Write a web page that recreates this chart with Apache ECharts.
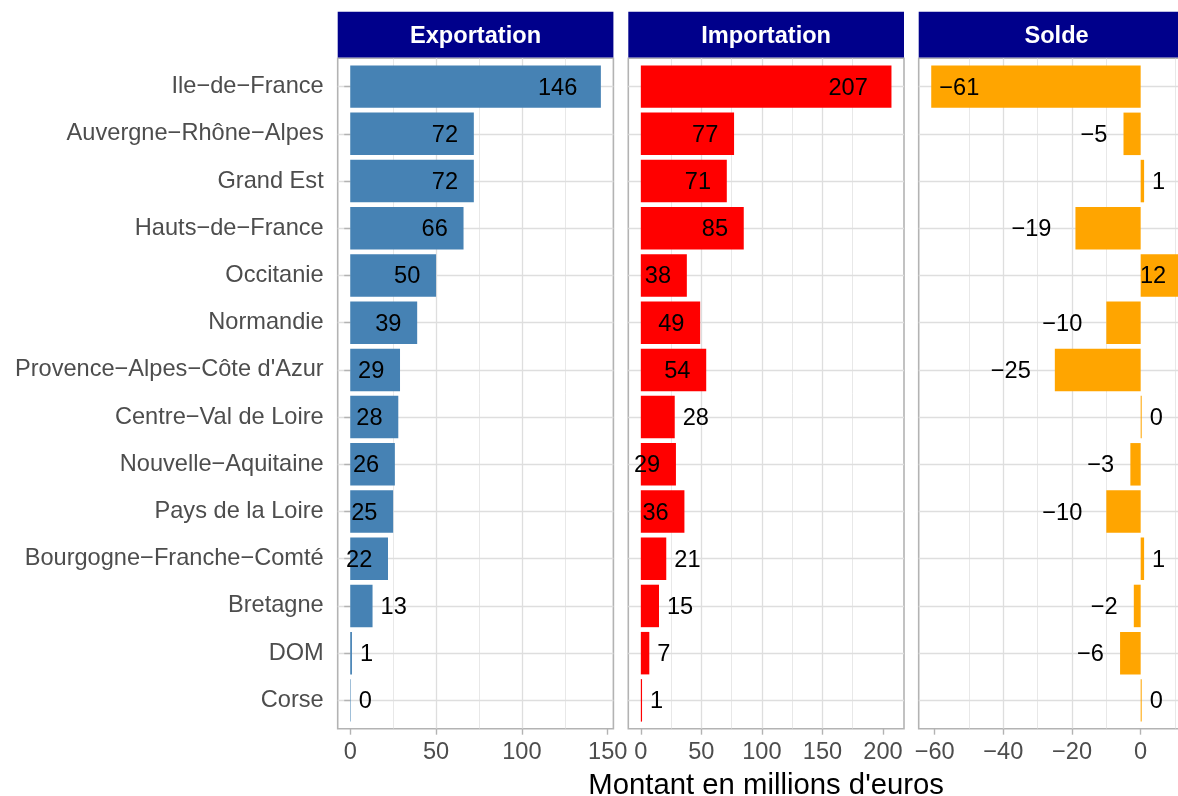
<!DOCTYPE html>
<html><head><meta charset="utf-8">
<script src="https://cdn.jsdelivr.net/npm/echarts@6/dist/echarts.min.js"></script>
<style>html,body{margin:0;padding:0;background:#fff}#c{width:1178px;height:796px}</style>
</head><body><div id="c"></div>
<script>
// ---- data ----
const regions = ["Ile−de−France","Auvergne−Rhône−Alpes","Grand Est","Hauts−de−France","Occitanie","Normandie","Provence−Alpes−Côte d'Azur","Centre−Val de Loire","Nouvelle−Aquitaine","Pays de la Loire","Bourgogne−Franche−Comté","Bretagne","DOM","Corse"];
const exportation = [146,72,72,66,50,39,29,28,26,25,22,13,1,0.3];
const importation = [207,77,71,85,38,49,54,28,29,36,21,15,7,1];
const solde = [-61,-5,1,-19,12,-10,-25,0.3,-3,-10,1,-2,-6,0.3];
const panelTitles = ["Exportation","Importation","Solde"];
const exportTicks = [0,50,100,150];
const importTicks = [0,50,100,150,200];
const soldeTicks = [-60,-40,-20,0];
const axisTitle = "Montant en millions d'euros";

// ---- layout / style ----
const F = "'Liberation Sans', Arial, Helvetica, sans-serif";
const FS = 23.6;
const colors = ['#4682B4','#FF0000','#FFA500'];
const series3 = [exportation, importation, solde];
const ticks3 = [exportTicks, importTicks, soldeTicks];
const panelLeft = [337.7, 628.3, 918.7];
const panelW = 275.7;
const panelTop = 58.3, panelBottom = 728.7;
const panelH = panelBottom - panelTop;
const unit = panelH / (regions.length - 1 + 1.2);
const barTop = panelTop + 0.1 * unit;
const barH = unit * regions.length;
const GRID = '#DEDEDE', BORDER = '#B3B3B3', TXT = '#4D4D4D';

const fmtNum = v => String(v).replace('-', '−');
function textW(s){ let w=0; for (const ch of s) w += (ch==='−'?0.584:0.556)*FS; return w; }
function expandRange(arr){
  const lo = Math.min(0, ...arr), hi = Math.max(0, ...arr), r = hi - lo;
  return [lo - 0.05*r, hi + 0.05*r];
}
function side(p, v, arr){
  if (p === 0) return v >= 20 ? 'before' : 'after';
  if (p === 1) return v >= 29 ? 'before' : 'after';
  if (v === Math.min(...arr)) return 'after';
  return (v < 0 || v >= 5) ? 'before' : 'after';
}
function labelFor(p, v, arr){
  const txt = fmtNum(Math.round(v));
  const s = side(p, v, arr);
  let position;
  if (v >= 0) position = s === 'before' ? 'insideRight' : 'right';
  else position = s === 'before' ? 'left' : 'insideLeft';
  return {show:true, position, distance: s==='before' ? 0.6*textW(txt) : 8, offset:[0,1.5],
          formatter: txt, color:'#000', fontSize:FS, fontFamily:F};
}

const grid = [], xAxis = [], yAxis = [], series = [], graphic = [];
for (let p = 0; p < 3; p++) {
  const [mn, mx] = expandRange(series3[p]);
  grid.push({left: panelLeft[p], width: panelW, top: barTop, height: barH, show:false,
             outerBoundsMode:'none', containLabel:false});
  grid.push({left: panelLeft[p], width: panelW, top: panelTop, height: panelH, show:true,
             outerBoundsMode:'none', containLabel:false,
             borderColor: BORDER, borderWidth: 1.6, backgroundColor:'rgba(0,0,0,0)'});
  const ga = 2*p, gb = 2*p+1;
  xAxis.push({gridIndex: ga, type:'value', min: mn, max: mx, show:false});
  const tk = ticks3[p];
  xAxis.push({gridIndex: gb, type:'value', min: mn, max: mx, splitNumber: 4,
    axisLine:{show:false},
    axisTick:{show:true, length:6, customValues: tk, lineStyle:{color:BORDER, width:1.4}},
    axisLabel:{show:true, margin:12, customValues: tk, color:TXT, fontSize:FS, fontFamily:F,
      formatter: v => tk.includes(v) ? fmtNum(v) : ''},
    splitLine:{show:true, showMinLine:false, showMaxLine:false, lineStyle:{color:GRID, width:1.3}},
    minorSplitLine:{show:true, lineStyle:{color:GRID, width:0.7}},
    minorTick:{show:false, splitNumber:2},
    name: p === 1 ? axisTitle : '', nameLocation:'middle', nameGap: 43,
    nameTextStyle:{fontSize:29.3, color:'#000', fontFamily:F}
  });
  yAxis.push({gridIndex: ga, type:'category', data: regions, inverse:true,
    axisLine:{show:false},
    axisTick:{show: p===0, alignWithLabel:true, length:6, lineStyle:{color:BORDER, width:1.4}},
    axisLabel:{show: p===0, margin:14, color:TXT, fontSize:FS, fontFamily:F},
    splitLine:{show:true, alignWithLabel:true, interval:0, lineStyle:{color:GRID, width:1.3}}
  });
  yAxis.push({gridIndex: gb, type:'value', min:0, max:1, show:false});
  series.push({type:'bar', xAxisIndex: ga, yAxisIndex: ga, barWidth:'90%', z:3,
    itemStyle:{color: colors[p]},
    data: series3[p].map(v => ({value: v, label: labelFor(p, v, series3[p])})),
    animation:false});
  graphic.push({type:'group', z: 10, children:[
    {type:'rect', shape:{x: panelLeft[p], y: 11.7, width: panelW, height: panelTop - 11.7 - 0.8}, style:{fill:'#00008B'}},
    {type:'text', x: panelLeft[p] + panelW/2, y: 36.5, style:{text: panelTitles[p], fill:'#fff',
      fontSize:FS, fontWeight:'bold', fontFamily:F, align:'center', verticalAlign:'middle'}}
  ]});
}

const chart = echarts.init(document.getElementById('c'), null, {renderer:'canvas'});
chart.setOption({animation:false, backgroundColor:'#fff', grid, xAxis, yAxis, series, graphic});
</script></body></html>
